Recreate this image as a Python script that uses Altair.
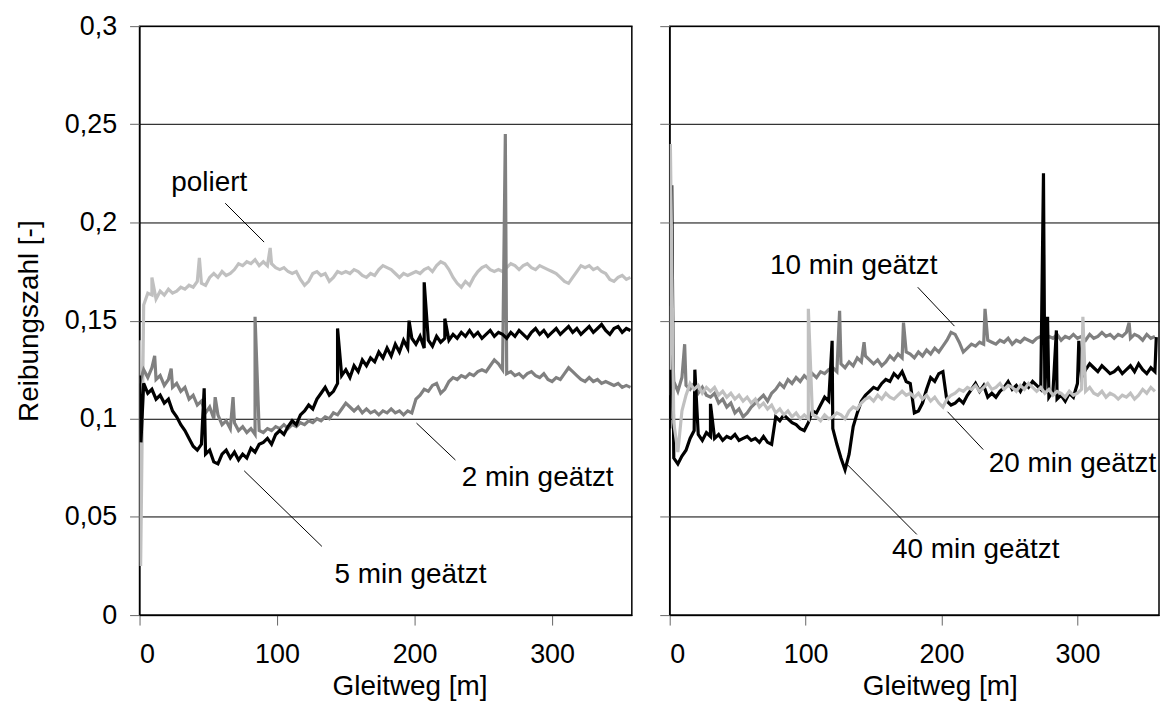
import altair as alt
import pandas as pd

FONT = "Liberation Sans"
X_GRID = list(range(0, 360, 3))  # sample positions, Gleitweg [m]

# ---------------- left panel ----------------
poliert = [
    .140, .158, .164, .163, .161, .165, .163, .166, .164, .165,
    .167, .166, .168, .167, .170, .169, .168, .172, .174, .172,
    .175, .173, .174, .176, .179, .178, .180, .179, .181, .178,
    .180, .178, .179, .177, .176, .177, .175, .174, .175, .171,
    .168, .170, .174, .175, .173, .174, .170, .172, .175, .174,
    .175, .174, .176, .175, .173, .172, .174, .173, .176, .178,
    .177, .176, .174, .172, .174, .173, .174, .175, .174, .176,
    .177, .175, .178, .180, .179, .176, .172, .169, .167, .170,
    .168, .172, .175, .177, .178, .176, .175, .176, .175, .177,
    .179, .178, .176, .178, .179, .177, .176, .178, .177, .176,
    .175, .174, .172, .170, .169, .172, .175, .178, .177, .178,
    .176, .177, .175, .174, .171, .170, .172, .173, .171, .172,
]
poliert_sx = [0.8, 9, 43.5, 95]
poliert_sy = [0.025, 0.172, 0.182, 0.187]

min2 = [
    .118, .125, .121, .126, .120, .122, .117, .120, .116, .118,
    .114, .116, .110, .112, .107, .109, .103, .106, .100, .102,
    .097, .099, .095, .098, .094, .096, .093, .095, .092, .094,
    .093, .095, .094, .096, .095, .097, .095, .097, .096, .098,
    .097, .099, .098, .100, .099, .101, .100, .103, .102, .105,
    .108, .106, .104, .106, .103, .105, .103, .104, .102, .104,
    .103, .105, .103, .104, .102, .104, .103, .110, .112, .115,
    .114, .117, .118, .113, .115, .119, .121, .120, .122, .121,
    .123, .122, .124, .125, .124, .127, .130, .128, .125, .123,
    .124, .122, .123, .121, .123, .124, .122, .121, .123, .120,
    .119, .121, .120, .123, .126, .124, .122, .120, .119, .121,
    .119, .120, .118, .119, .118, .117, .118, .116, .117, .116,
]
min2_sx = [11, 23, 55, 68, 84, 266]
min2_sy = [0.132, 0.1255, 0.111, 0.111, 0.152, 0.245]

min5 = [
    .122, .118, .113, .115, .110, .112, .108, .110, .104, .101,
    .097, .094, .090, .086, .084, .087, .082, .084, .078, .077,
    .082, .084, .080, .083, .079, .082, .080, .085, .083, .087,
    .088, .090, .087, .092, .094, .092, .096, .099, .097, .102,
    .104, .107, .105, .110, .113, .116, .112, .114, .118, .122,
    .125, .121, .127, .124, .130, .127, .131, .129, .134, .131,
    .136, .132, .138, .134, .140, .136, .141, .138, .142, .136,
    .140, .137, .142, .139, .141, .140, .143, .141, .144, .142,
    .145, .142, .144, .141, .143, .145, .142, .144, .143, .141,
    .144, .142, .145, .143, .141, .144, .146, .143, .145, .142,
    .144, .146, .143, .145, .147, .144, .146, .143, .145, .147,
    .144, .146, .148, .145, .143, .146, .147, .144, .146, .145,
]
min5_sx = [1, 47, 144, 196, 207, 222]
min5_sy = [0.088, 0.1155, 0.146, 0.150, 0.1695, 0.151]

# ---------------- right panel ----------------
min10 = [
    .112, .119, .114, .121, .117, .115, .118, .113, .116, .112,
    .111, .113, .108, .110, .106, .108, .103, .105, .101, .103,
    .106, .108, .110, .112, .109, .113, .115, .118, .116, .120,
    .118, .121, .119, .122, .120, .123, .121, .124, .123, .125,
    .126, .124, .128, .126, .129, .127, .131, .129, .132, .130,
    .128, .130, .127, .129, .132, .130, .133, .131, .134, .133,
    .131, .134, .132, .135, .133, .136, .134, .137, .140, .144,
    .143, .139, .134, .136, .138, .137, .139, .138, .140, .139,
    .138, .140, .139, .141, .138, .140, .139, .141, .140, .139,
    .141, .142, .140, .142, .141, .143, .140, .142, .141, .143,
    .141, .142, .140, .143, .141, .142, .144, .142, .143, .141,
    .143, .142, .144, .141, .143, .142, .140, .143, .141, .142,
]
min10_sx = [1, 11, 125, 143, 172, 232, 338]
min10_sy = [0.1575, 0.138, 0.155, 0.139, 0.149, 0.156, 0.149]

min20 = [
    .125, .098, .083, .104, .112, .118, .115, .117, .113, .116,
    .114, .116, .112, .114, .111, .113, .110, .112, .109, .111,
    .108, .110, .106, .108, .105, .107, .103, .105, .102, .104,
    .101, .103, .100, .102, .100, .102, .101, .099, .102, .100,
    .101, .103, .102, .100, .104, .106, .105, .108, .110, .111,
    .109, .112, .110, .113, .111, .110, .112, .114, .112, .113,
    .111, .113, .110, .112, .109, .111, .108, .106, .110, .112,
    .113, .115, .114, .116, .115, .117, .114, .116, .118, .115,
    .116, .118, .115, .117, .116, .114, .117, .115, .118, .116,
    .114, .116, .113, .115, .112, .114, .113, .111, .114, .112,
    .113, .115, .114, .116, .113, .112, .114, .111, .113, .112,
    .110, .112, .111, .113, .110, .112, .115, .113, .116, .114,
]
min20_sx = [0.5, 102, 304]
min20_sy = [0.240, 0.156, 0.152]

min40 = [
    .095, .080, .077, .081, .084, .090, .094, .092, .089, .093,
    .091, .090, .092, .089, .091, .090, .092, .089, .090, .091,
    .089, .090, .088, .091, .088, .087, .101, .099, .102, .100,
    .098, .097, .095, .094, .098, .104, .103, .107, .111, .109,
    .095, .087, .080, .074, .082, .096, .103, .109, .112, .114,
    .116, .115, .118, .120, .119, .123, .121, .124, .119, .118,
    .103, .104, .108, .115, .121, .119, .123, .124, .109, .107,
    .108, .110, .108, .112, .115, .118, .114, .117, .111, .113,
    .111, .114, .116, .119, .115, .117, .114, .118, .116, .119,
    .117, .115, .113, .111, .114, .110, .112, .109, .113, .111,
    .118, .121, .125, .128, .126, .124, .127, .125, .123, .124,
    .126, .123, .125, .127, .124, .128, .125, .123, .126, .124,
]
min40_sx = [1.5, 18.5, 30, 119.5, 275, 278, 284.5, 301, 358]
min40_sy = [0.219, 0.125, 0.1076, 0.1397, 0.225, 0.152, 0.145, 0.1397, 0.1416]

# annotations (data coordinates)
left_txt = ["poliert", "5 min geätzt", "2 min geätzt"]
left_tx = [50.7, 197, 289.5]
left_ty = [0.220, 0.0205, 0.070]
left_lx = [62.3, 76.1, 201.4]
left_ly = [0.2098, 0.0735, 0.0978]
left_lx2 = [90.6, 132.6, 229.7]
left_ly2 = [0.190, 0.035, 0.079]

right_txt = ["10 min geätzt", "20 min geätzt", "40 min geätzt"]
right_tx = [135.4, 296.4, 225.2]
right_ty = [0.1777, 0.0772, 0.033]
right_lx = [182.5, 204.4, 129.9]
right_ly = [0.167, 0.1036, 0.0772]
right_lx2 = [209.5, 230.7, 181.8]
right_ly2 = [0.1472, 0.0843, 0.0411]

Y_TICKS = [0, 0.05, 0.1, 0.15, 0.2, 0.25, 0.3]
X_TICKS = [0, 100, 200, 300]


def series(vals, sx, sy):
    assert len(vals) == len(X_GRID)
    rows = sorted(list(zip(X_GRID, vals)) + list(zip(sx, sy)), key=lambda r: r[0])
    return pd.DataFrame({"x": [r[0] for r in rows], "y": [r[1] for r in rows],
                         "o": list(range(len(rows)))})


def panel(lines, txt, tx, ty, lx, ly, lx2, ly2, xmax, width, show_y):
    xenc = alt.X("x:Q", scale=alt.Scale(domain=[0, xmax], nice=False, zero=True),
                 axis=alt.Axis(values=X_TICKS, title="Gleitweg [m]", grid=False,
                               labelPadding=17, titlePadding=5, titleX=271,
                               format="d"))
    if show_y:
        yaxis = alt.Axis(values=Y_TICKS, title="Reibungszahl [-]", grid=True,
                         labelPadding=13, titlePadding=21,
                         labelExpr="replace(format(datum.value, '.2~f'), '.', ',')")
    else:
        yaxis = alt.Axis(values=Y_TICKS, title=None, labels=False, grid=True)
    yenc = alt.Y("y:Q", scale=alt.Scale(domain=[0, 0.3], nice=False), axis=yaxis)

    layers = []
    for df, col in lines:
        layers.append(alt.Chart(df).mark_line(color=col, strokeWidth=3.2, clip=True)
                      .encode(x=xenc, y=yenc, order="o:Q"))
    lead = pd.DataFrame({"x": lx, "y": ly, "x2": lx2, "y2": ly2})
    layers.append(alt.Chart(lead).mark_rule(color="#000", strokeWidth=1)
                  .encode(x=xenc, y=yenc, x2="x2:Q", y2="y2:Q"))
    tdf = pd.DataFrame({"x": tx, "y": ty, "t": txt})
    layers.append(alt.Chart(tdf).mark_text(font=FONT, fontSize=28, align="center",
                                           baseline="middle", color="#000")
                  .encode(x=xenc, y=yenc, text="t:N"))
    return alt.layer(*layers).properties(width=width, height=591)


left = panel(
    [(series(poliert, poliert_sx, poliert_sy), "#c0c0c0"),
     (series(min2, min2_sx, min2_sy), "#808080"),
     (series(min5, min5_sx, min5_sy), "#000000")],
    left_txt, left_tx, left_ty, left_lx, left_ly, left_lx2, left_ly2,
    358, 494, True)

right = panel(
    [(series(min10, min10_sx, min10_sy), "#808080"),
     (series(min40, min40_sx, min40_sy), "#000000"),
     (series(min20, min20_sx, min20_sy), "#c0c0c0")],
    right_txt, right_tx, right_ty, right_lx, right_ly, right_lx2, right_ly2,
    360, 491, False)

chart = (
    alt.hconcat(left, right, spacing=25)
    .properties(padding={"left": 6, "top": 2, "right": 0, "bottom": 0},
                background="#ffffff")
    .configure_view(stroke="#000", strokeWidth=1.5)
    .configure_axis(labelFont=FONT, titleFont=FONT, labelFontSize=27,
                    titleFontSize=28, labelColor="#000", titleColor="#000",
                    titleFontWeight="normal", domainColor="#000", domainWidth=1,
                    tickColor="#666", tickSize=10, gridColor="#000",
                    gridOpacity=1, gridWidth=1)
)

chart.save("out.html", embed_options={"renderer": "svg", "actions": False})
